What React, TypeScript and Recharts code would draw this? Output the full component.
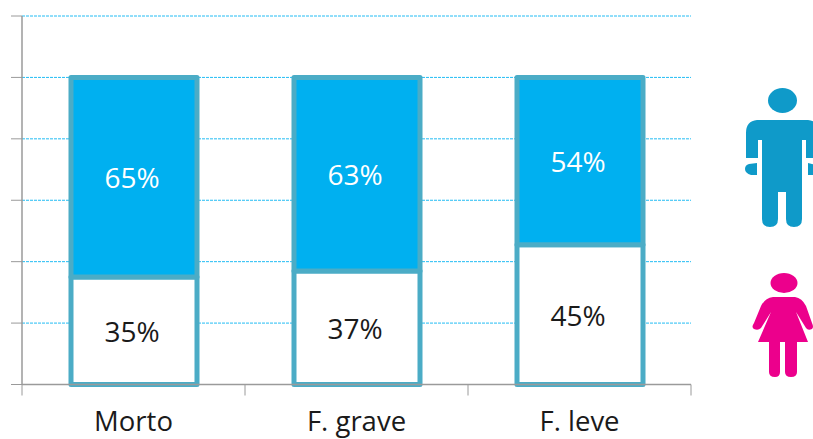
import React from "react";
import { BarChart, Bar, XAxis, YAxis, CartesianGrid, LabelList } from "recharts";

const categories = ["Morto", "F. grave", "F. leve"];
const femaleValues = [35, 37, 45.5];
const maleValues = [65, 63, 54.5];
const femaleLabels = ["35%", "37%", "45%"];
const maleLabels = ["65%", "63%", "54%"];
const yTicks = [0, 20, 40, 60, 80, 100, 120];

const data = categories.map((name, i) => ({
  name,
  female: femaleValues[i],
  male: maleValues[i],
}));

const FONT = "'Open Sans', 'Noto Sans', sans-serif";
const BORDER = "#4bacc6";
const AXIS = "#9a9a9a";
const TEXT = "#1a1a1a";
const AXIS_Y = 384.5;
const TICK_LENGTH = 11;

function CategoryTick(props: any) {
  const { x, y, payload, index, width, visibleTicksCount } = props;
  const band = width / visibleTicksCount;
  return (
    <g>
      <line x1={x - band / 2} x2={x - band / 2} y1={AXIS_Y} y2={AXIS_Y + TICK_LENGTH} stroke={AXIS} strokeWidth={1} />
      {index === visibleTicksCount - 1 ? (
        <line x1={x + band / 2} x2={x + band / 2} y1={AXIS_Y} y2={AXIS_Y + TICK_LENGTH} stroke={AXIS} strokeWidth={1} />
      ) : null}
      <text x={x} y={y} textAnchor="middle" fontSize={27.5} fill={TEXT} fontFamily={FONT} dy={22}>
        {payload.value}
      </text>
    </g>
  );
}

function Man() {
  return (
    <g fill="#0f9ac9">
      <ellipse cx={782.5} cy={100.5} rx={14.5} ry={12.5} />
      <path d="M757 120 H808 Q819 121 819 133 V158 H806 V140 H802 V219 Q802 227 794 227 Q786 227 786 219 V192 H778 V219 Q778 227 770 227 Q762 227 762 219 V140 H758 V158 H746 V133 Q746 121 757 120 Z" />
      <path d="M749 164 L757 163 V175 L751 175 Q745 173 745 169 Q745 165 749 164 Z" />
      <path d="M808 163 L819 166 V175 H808 Z" />
    </g>
  );
}

function Woman() {
  return (
    <g fill="#ec008c">
      <ellipse cx={784} cy={283} rx={13.5} ry={10} />
      <path d="M773 297 H795 Q802 298 806 306 L812 323 Q814 327 812 329 Q808 331 806 328 L796 312 L808 342 H797 V372 Q797 377 791 377 Q785 377 785 372 V342 H780 V372 Q780 377 775 377 Q769 377 769 372 V342 H758 L771 312 L761 328 Q758 331 754 329 Q751 327 754 323 L761 306 Q765 298 773 297 Z" />
    </g>
  );
}

export default function App() {
  return (
    <div style={{ position: "absolute", left: 0, top: 0, width: 813, height: 439, background: "#fff", overflow: "hidden" }}>
      <BarChart
        width={813}
        height={439}
        data={data}
        margin={{ top: 16, right: 122, bottom: 0, left: 0 }}
        barSize={126}
      >
        <CartesianGrid vertical={false} horizontal stroke="#22bcf4" strokeDasharray="3 1" strokeWidth={1} />
        <YAxis
          width={22}
          domain={[0, 120]}
          ticks={yTicks}
          tickSize={11}
          tickFormatter={() => ""}
          stroke={AXIS}
          tick={{ fontSize: 1 }}
          tickLine={{ stroke: AXIS, strokeWidth: 1 }}
          axisLine={{ stroke: AXIS, strokeWidth: 1.5 }}
        />
        <XAxis
          dataKey="name"
          height={54.5}
          interval={0}
          tickLine={false}
          tickMargin={18}
          stroke={AXIS}
          axisLine={{ stroke: AXIS, strokeWidth: 1.5 }}
          tick={<CategoryTick />}
        />
        <Bar dataKey="female" stackId="a" fill="#ffffff" stroke={BORDER} strokeWidth={5} strokeLinejoin="round" isAnimationActive={false}>
          <LabelList position="center" fontSize={28} fill={TEXT} fontFamily={FONT} stroke="none" valueAccessor={(_e: unknown, i: number) => femaleLabels[i]} dy={1} dx={-2} />
        </Bar>
        <Bar dataKey="male" stackId="a" fill="#00b0f0" stroke={BORDER} strokeWidth={5} strokeLinejoin="round" isAnimationActive={false}>
          <LabelList position="center" fontSize={28} fill="#ffffff" fontFamily={FONT} stroke="none" valueAccessor={(_e: unknown, i: number) => maleLabels[i]} dy={1} dx={-2} />
        </Bar>
      </BarChart>
      <svg width={813} height={439} style={{ position: "absolute", left: 0, top: 0, pointerEvents: "none" }}>
        <Man />
        <Woman />
      </svg>
    </div>
  );
}
